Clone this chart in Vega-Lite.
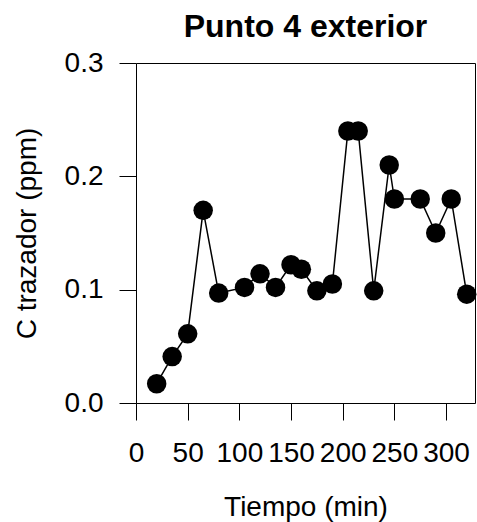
{
  "$schema": "https://vega.github.io/schema/vega-lite/v6.json",
  "width": 339,
  "height": 340,
  "autosize": {"type": "none"},
  "padding": {"left": 136, "top": 63, "right": 2, "bottom": 119},
  "background": "white",
  "title": {
    "text": "Punto 4 exterior",
    "font": "Liberation Sans",
    "fontSize": 32,
    "fontWeight": "bold",
    "color": "black",
    "anchor": "middle",
    "frame": "group",
    "baseline": "bottom",
    "offset": -27
  },
  "config": {
    "view": {"stroke": "black", "strokeWidth": 1},
    "axis": {
      "domain": false,
      "grid": false,
      "ticks": true,
      "tickColor": "black",
      "tickWidth": 1,
      "tickSize": 17,
      "labelFont": "Liberation Sans",
      "labelFontSize": 28,
      "labelColor": "black",
      "titleFont": "Liberation Sans",
      "titleFontSize": 28,
      "titleFontWeight": "normal",
      "titleColor": "black",
      "labelOverlap": false,
      "labelFlush": false,
      "labelBound": false
    }
  },
  "data": {
    "values": [
      {"t": 20, "c": 0.017},
      {"t": 35, "c": 0.041},
      {"t": 50, "c": 0.061},
      {"t": 65, "c": 0.170},
      {"t": 80, "c": 0.097},
      {"t": 105, "c": 0.102},
      {"t": 120, "c": 0.114},
      {"t": 135, "c": 0.102},
      {"t": 150, "c": 0.122},
      {"t": 160, "c": 0.118},
      {"t": 175, "c": 0.099},
      {"t": 190, "c": 0.105},
      {"t": 205, "c": 0.240},
      {"t": 215, "c": 0.240},
      {"t": 230, "c": 0.099},
      {"t": 245, "c": 0.210},
      {"t": 250, "c": 0.180},
      {"t": 275, "c": 0.180},
      {"t": 290, "c": 0.150},
      {"t": 305, "c": 0.180},
      {"t": 320, "c": 0.096}
    ]
  },
  "encoding": {
    "x": {
      "field": "t",
      "type": "quantitative",
      "scale": {"domain": [0, 328], "nice": false, "zero": false},
      "axis": {
        "title": "Tiempo (min)",
        "values": [0, 50, 100, 150, 200, 250, 300],
        "labelPadding": 19,
        "titlePadding": 26
      }
    },
    "y": {
      "field": "c",
      "type": "quantitative",
      "scale": {"domain": [0, 0.3], "nice": false},
      "axis": {
        "title": "C trazador (ppm)",
        "values": [0, 0.1, 0.2, 0.3],
        "format": ".1f",
        "labelPadding": 16,
        "titlePadding": 23
      }
    }
  },
  "layer": [
    {
      "mark": {"type": "line", "color": "black", "strokeWidth": 1.5}
    },
    {
      "mark": {"type": "point", "filled": true, "color": "black", "opacity": 1, "size": 380, "shape": "circle"}
    }
  ]
}
